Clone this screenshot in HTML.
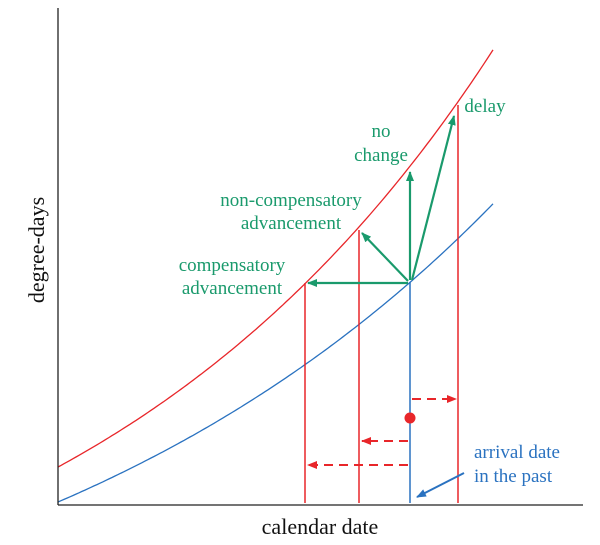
<!DOCTYPE html>
<html><head><style>body{margin:0;background:#fff}svg{display:block}</style></head><body>
<svg id="s" width="600" height="545" viewBox="0 0 600 545" xmlns="http://www.w3.org/2000/svg" font-family="Liberation Serif, serif">
<defs>
<marker id="g" markerWidth="10" markerHeight="8" refX="9" refY="4" orient="auto" markerUnits="userSpaceOnUse"><path d="M0,0 L10,4 L0,8 z" fill="#1a9a6c"/></marker>
<marker id="r" markerWidth="10" markerHeight="8" refX="9" refY="4" orient="auto" markerUnits="userSpaceOnUse"><path d="M0,0 L10,4 L0,8 z" fill="#e8262a"/></marker>
<marker id="b" markerWidth="10" markerHeight="8" refX="9" refY="4" orient="auto" markerUnits="userSpaceOnUse"><path d="M0,0 L10,4 L0,8 z" fill="#2a72c0"/></marker>
</defs>
<path id="red" fill="none" stroke="#e8262a" stroke-width="1.3"/>
<path id="blue" fill="none" stroke="#2a72c0" stroke-width="1.3"/>
<line x1="58" y1="8" x2="58" y2="505" stroke="#222" stroke-width="1.3"/>
<line x1="58" y1="505" x2="583" y2="505" stroke="#222" stroke-width="1.3"/>
<g stroke="#e8262a" stroke-width="1.5">
<line x1="305" y1="283" x2="305" y2="503"/>
<line x1="359" y1="230" x2="359" y2="503"/>
<line x1="458" y1="105" x2="458" y2="503"/>
</g>
<line x1="410" y1="282" x2="410" y2="503" stroke="#2a72c0" stroke-width="1.5"/>
<g stroke="#1a9a6c" stroke-width="2.2" fill="none">
<line x1="408" y1="283" x2="308" y2="283" marker-end="url(#g)"/>
<line x1="408" y1="281" x2="362" y2="233" marker-end="url(#g)"/>
<line x1="410" y1="280" x2="410" y2="172" marker-end="url(#g)"/>
<line x1="412" y1="280" x2="454" y2="116" marker-end="url(#g)"/>
</g>
<g stroke="#e8262a" stroke-width="2" stroke-dasharray="9,6" fill="none">
<line x1="412" y1="399" x2="456" y2="399" marker-end="url(#r)"/>
<line x1="408" y1="441" x2="362" y2="441" marker-end="url(#r)"/>
<line x1="408" y1="465" x2="308" y2="465" marker-end="url(#r)"/>
</g>
<circle cx="410" cy="418" r="5.5" fill="#e8262a"/>
<line x1="464" y1="473" x2="417" y2="497" stroke="#2a72c0" stroke-width="2" marker-end="url(#b)"/>
<g fill="#1a9a6c" font-size="19" text-anchor="middle">
<text x="485" y="112">delay</text>
<text x="381" y="137">no</text>
<text x="381" y="161">change</text>
<text x="291" y="206">non-compensatory</text>
<text x="291" y="229">advancement</text>
<text x="232" y="271">compensatory</text>
<text x="232" y="294">advancement</text>
</g>
<g fill="#2a72c0" font-size="19">
<text x="474" y="458">arrival date</text>
<text x="474" y="482">in the past</text>
</g>
<text x="320" y="534" font-size="22" text-anchor="middle" fill="#111">calendar date</text>
<text transform="translate(44,250) rotate(-90)" font-size="22" text-anchor="middle" fill="#111">degree-days</text>
</svg>
<script>
function p(y0,a,b,x1){var d="";for(var x=58;x<=x1;x+=3){var y=y0-a*(Math.exp(b*(x-58))-1);d+=(x==58?"M":"L")+x+","+y.toFixed(1)+" ";}return d;}
document.getElementById("red").setAttribute("d",p(467,226.6,0.0024,493));
document.getElementById("blue").setAttribute("d",p(502,215,0.002,493));
</script>
</body></html>
